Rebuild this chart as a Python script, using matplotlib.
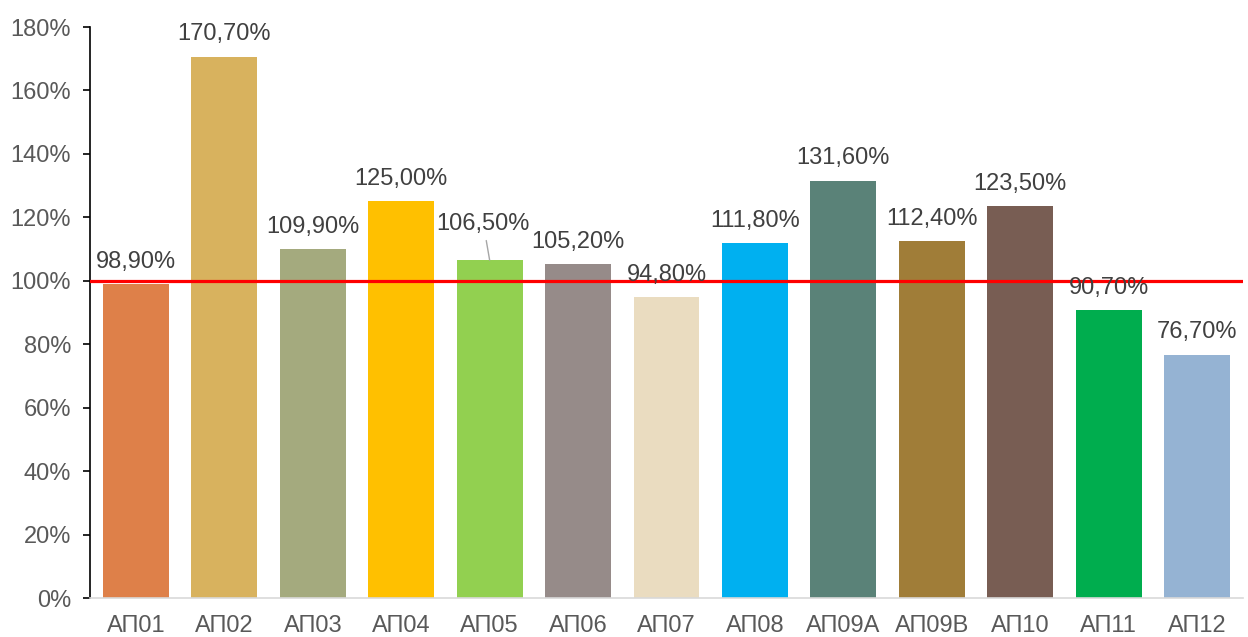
import matplotlib
matplotlib.use("Agg")
import matplotlib.pyplot as plt
import numpy as np

plt.rcParams['font.family'] = ['Liberation Sans', 'DejaVu Sans']

categories = ["АП01", "АП02", "АП03", "АП04", "АП05", "АП06", "АП07",
              "АП08", "АП09А", "АП09В", "АП10", "АП11", "АП12"]
values = [98.9, 170.7, 109.9, 125.0, 106.5, 105.2, 94.8,
          111.8, 131.6, 112.4, 123.5, 90.7, 76.7]
colors = ["#DE8049", "#D8B25E", "#A4AA7E", "#FFC000", "#92D050", "#968B89",
          "#EADCC0", "#00B0F0", "#5A8278", "#A07D38", "#785D53", "#00AD4E",
          "#95B3D3"]
target = 100
yticks = np.arange(0, 181, 20)

fig = plt.figure(figsize=(12.48, 6.37), dpi=100)
ax = fig.add_axes([0.0721, 0.0612, 0.9239, 0.8964])

x = np.arange(len(categories))
ax.bar(x, values, width=0.745, color=colors, zorder=2)
ax.axhline(target, color="#FF0000", linewidth=2.3, zorder=3)

for i, v in enumerate(values):
    txt = f"{v:.2f}".replace(".", ",") + "%"
    if categories[i] == "АП05":
        ax.annotate(txt, xy=(i, v), xytext=(-4.5, 26),
                    textcoords="offset points", ha="center", va="center",
                    fontsize=17, color="#404040",
                    arrowprops=dict(arrowstyle="-", color="#A6A6A6", lw=1,
                                    shrinkA=2, shrinkB=0))
    else:
        ax.annotate(txt, xy=(i, v), xytext=(0, 16),
                    textcoords="offset points", ha="center", va="center",
                    fontsize=17, color="#404040", zorder=4)

ax.set_xlim(-0.52, len(categories) - 0.48)
ax.set_ylim(0, 180)
ax.set_yticks(yticks)
ax.set_yticklabels([f"{t}%" for t in yticks], fontsize=17, color="#595959")
ax.set_xticks(x)
ax.set_xticklabels(categories, fontsize=17, color="#595959")
ax.tick_params(axis="x", length=0, pad=12)
ax.tick_params(axis="y", length=5, width=1.2, color="black", pad=8.5)

for s in ["top", "right"]:
    ax.spines[s].set_visible(False)
ax.spines["left"].set_color("black")
ax.spines["left"].set_linewidth(1.2)
ax.spines["bottom"].set_color("#D9D9D9")
ax.spines["bottom"].set_linewidth(1.2)

fig.savefig("out.png", dpi=100)
